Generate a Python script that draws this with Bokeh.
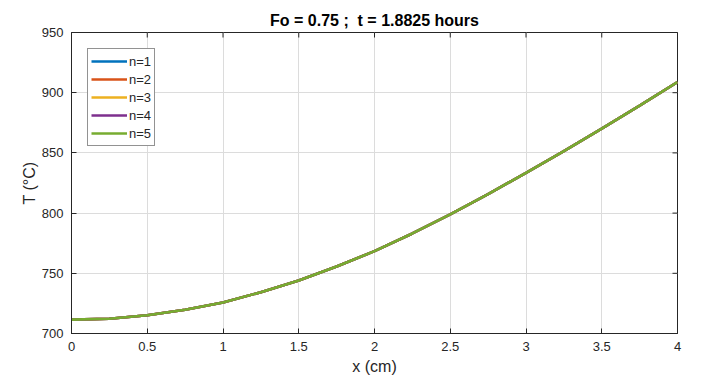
import math
from bokeh.plotting import figure
from bokeh.models import (FixedTicker, NumeralTickFormatter, Legend,
                          LegendItem, Range1d)
from bokeh.embed import file_html
from bokeh.resources import INLINE

# Temperature profile along the slab, one series per number of series terms n
x_cm = [0.0, 0.25, 0.5, 0.75, 1.0, 1.25, 1.5, 1.75, 2.0,
        2.25, 2.5, 2.75, 3.0, 3.25, 3.5, 3.75, 4.0]
temps_n1 = [711.5, 712.3, 715.2, 719.7, 725.8, 734.3, 744.0, 755.7, 768.4,
            783.1, 798.9, 815.8, 833.5, 851.5, 870.1, 889.2, 908.9]
temps_n2 = list(temps_n1)
temps_n3 = list(temps_n1)
temps_n4 = list(temps_n1)
temps_n5 = list(temps_n1)

series_labels = ["n=1", "n=2", "n=3", "n=4", "n=5"]
series_temps = [temps_n1, temps_n2, temps_n3, temps_n4, temps_n5]
series_colors = ["#0072BD", "#D95319", "#EDB120", "#7E2F8E", "#77AC30"]

x_ticks = [0, 0.5, 1, 1.5, 2, 2.5, 3, 3.5, 4]
y_ticks = [700, 750, 800, 850, 900, 950]
x_min, x_max = 0, 4
y_min, y_max = 700, 950

FONT = "Liberation Sans"
TXT = "#262626"

p = figure(width=704, height=385, output_backend="svg", toolbar_location=None,
           x_range=Range1d(x_min, x_max), y_range=Range1d(y_min, y_max),
           min_border_left=71, min_border_right=27,
           min_border_top=32, min_border_bottom=52)
p.background_fill_color = "white"
p.border_fill_color = "white"
p.outline_line_color = TXT
p.outline_line_width = 1

p.title.text = "Fo = 0.75 ;\u00a0 t = 1.8825 hours"
p.title.align = "center"
p.title.text_font = FONT
p.title.text_font_size = "16px"
p.title.text_font_style = "bold"
p.title.text_color = "#000000"
p.title.standoff = 8

p.xgrid.ticker = FixedTicker(ticks=x_ticks)
p.ygrid.ticker = FixedTicker(ticks=y_ticks)
p.grid.grid_line_color = "#dcdcdc"
p.grid.grid_line_width = 1

renderers = []
for lab, temps, col in zip(series_labels, series_temps, series_colors):
    r = p.line(x_cm, temps, line_color=col, line_width=2.6)
    renderers.append((lab, r))

# inward tick marks on the top and right edges of the box (half of each dash is clipped)
p.scatter([t for t in x_ticks], [y_max] * len(x_ticks), marker="dash", size=10,
          angle=math.pi / 2, line_color=TXT, line_width=1)
p.scatter([x_max] * len(y_ticks), y_ticks, marker="dash", size=10,
          line_color=TXT, line_width=1)


def style_axis(ax):
    ax.axis_line_color = TXT
    ax.major_tick_line_color = TXT
    ax.major_tick_in = 5
    ax.major_tick_out = 0
    ax.minor_tick_line_color = None
    ax.major_label_text_font = FONT
    ax.major_label_text_font_size = "13px"
    ax.major_label_text_color = TXT
    ax.axis_label_text_font = FONT
    ax.axis_label_text_font_size = "16px"
    ax.axis_label_text_font_style = "normal"
    ax.axis_label_text_color = TXT


xa = p.xaxis[0]
xa.ticker = FixedTicker(ticks=x_ticks)
xa.formatter = NumeralTickFormatter(format="0.[0]")
xa.axis_label = "x (cm)"
style_axis(xa)
xa.major_label_standoff = 8
xa.axis_label_standoff = 4

ya = p.yaxis[0]
ya.ticker = FixedTicker(ticks=y_ticks)
ya.axis_label = "T (°C)"
style_axis(ya)
ya.major_label_standoff = 8
ya.axis_label_standoff = 1

legend = Legend(items=[LegendItem(label=lab, renderers=[r]) for lab, r in renderers],
                location="top_left")
legend.margin = 16
legend.padding = 3
legend.spacing = 0
legend.glyph_width = 36
legend.glyph_height = 18
legend.label_height = 18
legend.label_standoff = 2
legend.label_text_font = FONT
legend.label_text_font_size = "13px"
legend.label_text_color = TXT
legend.border_line_color = TXT
legend.border_line_width = 1
legend.background_fill_color = "white"
legend.background_fill_alpha = 1
p.add_layout(legend, "center")

open("out.html", "w").write(file_html(p, INLINE))
